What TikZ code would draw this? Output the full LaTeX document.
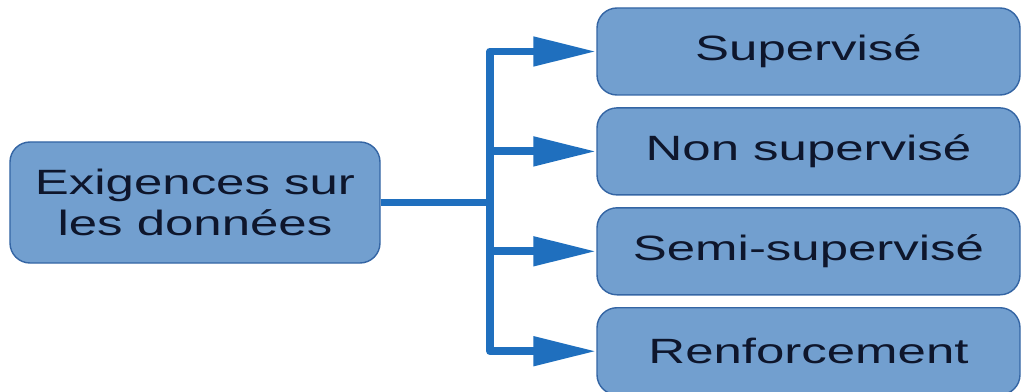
\documentclass[tikz,border=0pt]{standalone}
\usepackage{fontspec}
\newfontfamily\diagfont[FakeStretch=1.45]{Liberation Sans}
\definecolor{boxFill}{RGB}{114, 159, 207}
\definecolor{boxLine}{RGB}{52, 101, 164}
\definecolor{linkBlue}{RGB}{31, 111, 190}
\definecolor{textNavy}{RGB}{14, 22, 44}
\usetikzlibrary{arrows.meta, positioning}

\begin{document}
\begin{tikzpicture}[
      node distance=0.23cm,
      every node/.style={font=\diagfont\fontsize{20}{23}\selectfont, text=textNavy},
      block/.style={rectangle, draw=boxLine, fill=boxFill, rounded corners=0.4cm, minimum height=1.74cm, minimum width=8.46cm, align=center, inner sep=2pt, line width=0.8pt},
      source/.style={block, minimum height=2.42cm, minimum width=7.4cm},
      link/.style={line width=4.5pt, linkBlue, line join=round},
      arrow/.style={link, -{Triangle[length=1.26cm, width=0.56cm]}}
    ]
      \useasboundingbox (0,0) rectangle (20.44,7.82);

      \node[source] (req) at (3.9,3.77) {Exigences sur\\les données};
      \node[block] (sup) at (16.17,6.79) {Supervisé};
      \node[block, below=of sup] (nonsup) {Non supervisé};
      \node[block, below=of nonsup] (semi) {Semi-supervisé};
      \node[block, below=of semi] (renf) {Renforcement};

      \coordinate (bus) at (9.8,0 |- req.east);
      \draw[link] (req.east) -- (bus);
      \foreach \t in {sup, nonsup, semi, renf}
        \draw[arrow] (bus) |- (\t.west);
    \end{tikzpicture}
\end{document}
